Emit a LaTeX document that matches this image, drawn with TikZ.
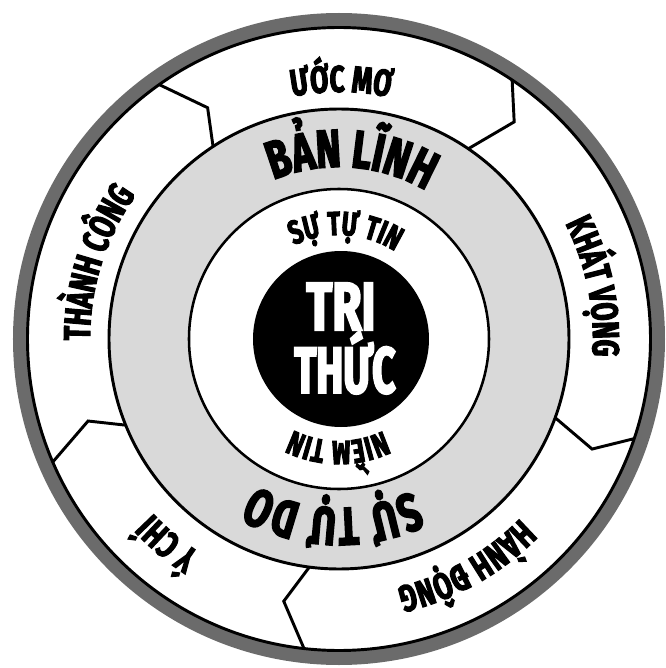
\documentclass[tikz,border=0pt]{standalone}
\usepackage{fontspec}
\usetikzlibrary{decorations.text}
\newfontfamily\lab{Fira Sans}[FakeStretch=0.7, FakeBold=3]
\newfontfamily\labn{Fira Sans}[FakeStretch=0.62, FakeBold=3]
\definecolor{ringgray}{gray}{0.42}
\definecolor{lightring}{gray}{0.85}
\newcommand\fouter{\lab\bfseries\fontsize{28}{30}\selectfont}
\newcommand\fmid{\lab\bfseries\fontsize{40}{42}\selectfont}
\newcommand\finner{\lab\bfseries\fontsize{25}{27}\selectfont}
\newcommand\ringtext[4]{%
  \path[decorate,decoration={text along path,text={|#1|#2},text align=center}]
    ({#3+70}:#4) arc[start angle={#3+70}, end angle={#3-70}, radius=#4];}
\tikzset{
  divider/.style={draw=black, line width=2.2pt, line join=miter},
  ringline/.style={draw=black, line width=2.2pt},
}
\begin{document}
\begin{tikzpicture}[x=0.75pt,y=0.75pt]
\useasboundingbox (-339,-329) rectangle (327,339);
% outer gray ring
\fill[ringgray] (0,0) circle[radius=326];
\fill[white] (0,0) circle[radius=311];
\draw[ringline] (0,0) circle[radius=311.5];
% light gray ring
\fill[lightring] (0,0) circle[radius=230];
\draw[ringline] (0,0) circle[radius=230];
% inner white ring
\fill[white] (0,0) circle[radius=150];
\draw[black, line width=1.9pt] (0,0) circle[radius=150];
% center disk
\fill[black] (2,0) circle[radius=88];
% dividers
\coordinate (d1o) at (125.3:312); \coordinate (d1b) at (119.6:266); \coordinate (d1i) at (123.2:230);
\coordinate (d2o) at (56.3:312);  \coordinate (d2b) at (51.1:279);  \coordinate (d2i) at (55.8:230);
\coordinate (d3o) at (-18.6:312); \coordinate (d3b) at (-23.5:276); \coordinate (d3i) at (-20.0:230);
\coordinate (d4o) at (263.6:312); \coordinate (d4b) at (258.1:268); \coordinate (d4i) at (262.6:230);
\coordinate (d5o) at (203.3:312); \coordinate (d5b) at (198.1:264); \coordinate (d5i) at (202.0:230);
\draw[divider] (d1o) -- (d1b) -- (d1i);
\draw[divider] (d2o) -- (d2b) -- (d2i);
\draw[divider] (d3o) -- (d3b) -- (d3i);
\draw[divider] (d4o) -- (d4b) -- (d4i);
\draw[divider] (d5o) -- (d5b) -- (d5i);
% outer labels
\ringtext{\fouter}{ƯỚC MƠ}{89.5}{247}
\ringtext{\fouter}{KHÁT VỌNG}{11.6}{254}
\ringtext{\fouter}{HÀNH ĐỘNG}{-60.8}{255}
\ringtext{\fouter}{Ý CHÍ}{-130}{255}
\ringtext{\fouter}{THÀNH CÔNG}{162.5}{249}
% middle labels
\ringtext{\fmid}{BẢN LĨNH}{86}{172}
\ringtext{\fmid}{SỰ TỰ DO}{-92}{169}
% inner labels
\ringtext{\finner}{SỰ TỰ TIN}{86.6}{104}
\ringtext{\finner}{NIỀM TIN}{-90.5}{102}
% center
\node[anchor=base, text=white, inner sep=0pt, font=\lab\bfseries\fontsize{51}{51}\selectfont] (tri) at (2,9) {TRI};
\node[anchor=base, text=white, inner sep=0pt, font=\labn\bfseries\fontsize{49}{49}\selectfont] (thuc) at (6,-54) {THỨC};
\end{tikzpicture}
\end{document}
